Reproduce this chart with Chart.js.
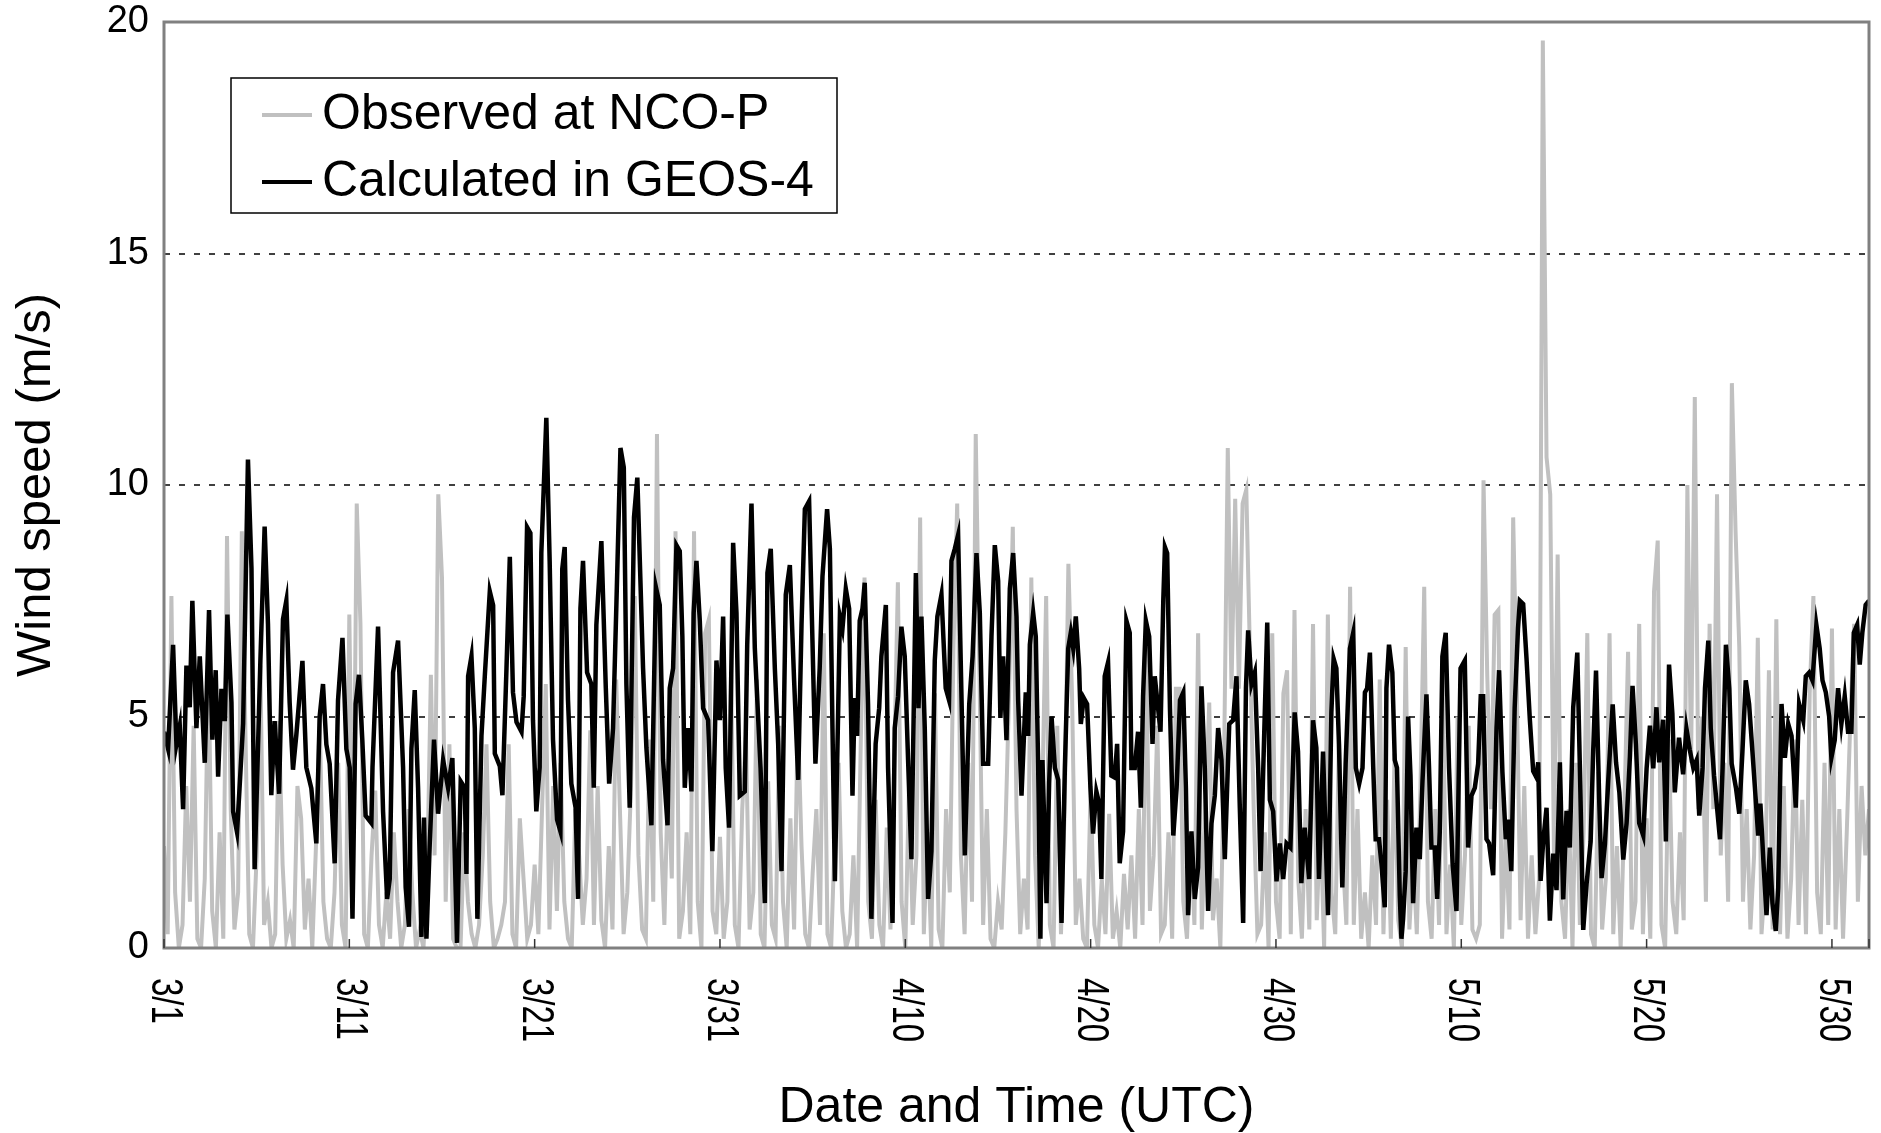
<!DOCTYPE html>
<html>
<head>
<meta charset="utf-8">
<script src="https://cdn.jsdelivr.net/npm/chart.js@4.4.1/dist/chart.umd.min.js"></script>
<style>
  html, body { margin: 0; padding: 0; background: #fff; }
  #wrap { width: 1881px; height: 1133px; }
</style>
</head>
<body>
<div id="wrap"><canvas id="windChart" width="1881" height="1133"></canvas></div>
<script>
// tick labels on the time axis, one every 10 days from 3/1
const dateLabels = ['3/1', '3/11', '3/21', '3/31', '4/10', '4/20', '4/30', '5/10', '5/20', '5/30'];
const seriesNames = ['Observed at NCO-P', 'Calculated in GEOS-4'];

// observed wind speed (m/s), one value every 0.2 day from 3/1 00:00
const obsStep = 0.2;
const obsSpeed = [
  2.2, 0.3, 7.6, 1.2, 0.0, 0.5, 3.5, 1.0, 4.8, 0.2, 0.0, 1.5, 6.2, 0.8, 0.0, 2.5, 0.2, 8.9, 3.0, 0.4, 1.2, 9.0, 4.5, 0.3, 0.0,
  2.0, 6.1, 0.5, 1.0, 0.0, 0.3, 4.9, 1.8, 0.2, 0.6, 0.0, 3.5, 2.8, 0.4, 1.5, 0.0, 2.2, 5.0, 1.0, 0.2, 0.0, 1.2, 4.0, 0.5, 0.0,
  7.2, 1.0, 9.6, 7.0, 0.3, 0.0, 2.0, 3.4, 0.5, 0.0, 1.2, 0.2, 2.5, 1.0, 0.0, 0.5, 3.0, 1.2, 0.0, 0.4, 0.0, 1.5, 5.9, 2.0, 9.8,
  8.0, 1.0, 4.4, 0.2, 0.0, 0.0, 2.5, 1.0, 0.3, 0.0, 0.5, 2.0, 4.4, 1.0, 0.0, 0.2, 0.5, 1.0, 4.4, 0.3, 0.0, 2.8, 1.5, 0.2, 0.5,
  1.8, 0.3, 3.0, 5.7, 0.4, 3.5, 0.8, 4.0, 1.0, 0.2, 0.0, 3.0, 2.0, 0.5, 1.5, 4.7, 0.5, 3.5, 0.6, 0.0, 2.2, 0.4, 5.8, 3.0, 0.3,
  1.2, 3.5, 7.6, 2.0, 0.4, 0.2, 4.5, 1.0, 11.1, 2.5, 0.5, 3.8, 1.5, 9.0, 0.2, 0.8, 2.5, 0.3, 9.0, 1.0, 0.0, 6.8, 7.1, 0.8, 0.3,
  2.4, 0.2, 1.0, 5.9, 0.5, 0.0, 3.0, 4.6, 0.4, 1.2, 5.8, 0.3, 0.0, 3.6, 0.5, 0.2, 4.8, 1.0, 0.0, 2.8, 0.4, 5.0, 2.2, 0.3, 0.0,
  1.6, 3.0, 0.5, 6.8, 0.3, 0.0, 2.5, 4.0, 0.8, 0.0, 0.3, 2.0, 0.0, 4.5, 8.0, 1.0, 0.2, 3.2, 0.5, 0.0, 2.6, 0.4, 4.0, 7.9, 1.0,
  0.0, 3.5, 0.5, 2.0, 9.3, 0.3, 2.5, 0.0, 5.5, 0.4, 0.0, 3.0, 1.2, 6.5, 9.6, 2.0, 0.3, 4.0, 1.0, 11.1, 6.0, 0.5, 3.0, 0.2, 0.0,
  1.0, 0.4, 2.5, 5.5, 9.1, 3.0, 0.3, 1.5, 0.4, 8.0, 2.0, 0.0, 3.5, 7.6, 0.5, 0.0, 4.8, 0.3, 3.0, 8.3, 5.4, 0.5, 1.5, 0.2, 0.0,
  3.5, 0.5, 0.0, 1.5, 0.3, 2.9, 0.2, 0.8, 0.0, 1.6, 0.4, 2.0, 0.2, 3.0, 0.5, 6.5, 0.8, 2.0, 4.8, 0.3, 0.5, 2.5, 0.2, 5.6, 5.6,
  1.0, 0.2, 2.5, 0.5, 6.8, 0.4, 3.0, 5.3, 0.6, 1.5, 0.0, 4.0, 10.8, 5.6, 9.7, 5.6, 9.6, 9.9, 6.3, 3.0, 0.3, 0.5, 2.5, 0.0, 6.8,
  1.0, 0.2, 5.5, 6.0, 0.3, 7.3, 1.5, 0.2, 3.0, 0.4, 7.0, 0.6, 2.8, 0.0, 7.2, 1.2, 0.3, 4.5, 2.0, 0.5, 7.8, 0.5, 3.0, 0.2, 1.2,
  0.0, 2.0, 0.5, 5.8, 0.3, 3.2, 0.2, 4.2, 0.6, 0.0, 6.5, 0.4, 2.0, 0.3, 3.5, 7.8, 1.0, 0.2, 3.0, 0.5, 6.0, 0.3, 1.8, 0.0, 5.0,
  0.5, 2.0, 4.8, 0.4, 0.2, 0.5, 10.1, 5.9, 3.0, 7.2, 7.3, 0.2, 2.5, 0.4, 9.3, 5.5, 0.6, 3.5, 0.2, 2.0, 0.3, 1.5, 19.6, 10.6, 9.8,
  2.0, 8.5, 1.0, 0.2, 3.0, 0.0, 4.0, 0.5, 2.5, 6.8, 0.3, 0.0, 3.8, 0.4, 1.5, 6.8, 0.3, 2.2, 0.0, 3.0, 6.4, 0.4, 1.0, 7.0, 0.3,
  2.8, 0.2, 7.7, 8.8, 0.5, 0.0, 4.5, 1.0, 0.3, 2.5, 0.6, 10.0, 4.0, 11.9, 3.0, 5.0, 1.0, 7.0, 3.0, 9.8, 2.0, 4.0, 1.0, 12.2, 9.0,
  6.5, 1.0, 3.0, 0.4, 2.0, 6.7, 0.3, 1.5, 6.0, 0.4, 7.1, 0.3, 3.5, 0.2, 1.5, 4.5, 0.5, 3.2, 0.3, 5.5, 7.6, 1.2, 0.3, 4.0, 0.5,
  6.9, 0.4, 3.0, 0.2, 2.5, 5.0, 7.0, 1.0, 3.5, 2.0, 3.0
];

// GEOS-4 wind speed: time in days since 3/1 00:00, and speed (m/s)
const calcDay = [
  0.0, 0.22, 0.49, 0.67, 0.85, 1.03, 1.21, 1.39, 1.53, 1.75,
  1.93, 2.2, 2.43, 2.61, 2.79, 2.92, 3.1, 3.28, 3.42, 3.64,
  3.73, 3.94, 4.09, 4.27, 4.53, 4.72, 4.89, 5.07, 5.2, 5.43,
  5.61, 5.79, 5.97, 6.21, 6.42, 6.6, 6.78, 6.96, 7.14, 7.47,
  7.68, 7.95, 8.22, 8.4, 8.58, 8.76, 8.94,
  9.21, 9.39, 9.63, 9.84, 10.02, 10.17, 10.34, 10.52, 10.7, 10.88,
  11.19, 11.25, 11.55, 11.82, 12.04, 12.18, 12.36, 12.63, 12.9, 13.04,
  13.22, 13.35, 13.53, 13.71, 13.89, 14.03, 14.16, 14.34, 14.57, 14.79,
  15.06, 15.33, 15.56, 15.81, 16.01, 16.23, 16.32, 16.41, 16.59, 16.77,
  16.91, 17.13, 17.31, 17.58, 17.76, 17.85, 18.12,
  18.26, 18.48, 18.66, 18.83, 19.02, 19.29, 19.41, 19.59, 19.77, 19.91,
  20.09, 20.27, 20.36, 20.63, 20.81, 20.99, 21.21, 21.39, 21.49, 21.62,
  21.8, 21.98, 22.21, 22.34, 22.47, 22.61, 22.83, 23.06, 23.19, 23.33,
  23.6, 23.84, 24.02, 24.23, 24.41, 24.63, 24.81, 24.95, 25.13, 25.36,
  25.54, 25.85, 26.03, 26.3, 26.54, 26.75, 26.93, 27.17,
  27.29, 27.47, 27.65, 27.83, 27.97, 28.1, 28.28, 28.46, 28.58, 28.73,
  28.91, 29.09, 29.36, 29.59, 29.81, 29.99, 30.17, 30.31, 30.49, 30.71,
  30.89, 31.07, 31.34, 31.47, 31.7, 31.88, 32.19, 32.42, 32.56, 32.74,
  32.96, 33.14, 33.32, 33.55, 33.77, 34.0, 34.22, 34.4, 34.58, 34.81,
  34.99, 35.15, 35.38, 35.53, 35.78, 35.93, 36.07, 36.2, 36.38,
  36.47, 36.61, 36.79, 36.97, 37.15, 37.27, 37.4, 37.54, 37.69, 37.81,
  37.99, 38.17, 38.4, 38.59, 38.71, 38.95, 39.07, 39.31, 39.43, 39.61,
  39.79, 39.97, 40.15, 40.33, 40.57, 40.71, 40.87, 41.05, 41.23, 41.41,
  41.59, 41.73, 41.95, 42.18, 42.36, 42.49, 42.67, 42.85, 42.99, 43.21,
  43.45, 43.63, 43.84, 44.02, 44.2, 44.47, 44.65, 44.83, 45.01, 45.13,
  45.28, 45.46, 45.64,
  45.82, 46.0, 46.09, 46.27, 46.5, 46.63, 46.72, 46.9, 47.04, 47.17,
  47.29, 47.4, 47.62, 47.76, 47.89, 48.07, 48.25, 48.43, 48.61, 48.79,
  48.93, 49.06, 49.2, 49.38, 49.47, 49.63, 49.81, 49.99, 50.13, 50.31,
  50.46, 50.58, 50.76, 50.94, 51.12, 51.3, 51.43, 51.57, 51.75, 51.93,
  52.11, 52.2, 52.38, 52.56, 52.71, 52.83, 52.98, 53.16, 53.34, 53.46,
  53.64, 53.77, 53.92, 54.01, 54.13, 54.28, 54.46, 54.64, 54.82, 55.0,
  55.14, 55.26, 55.44, 55.62, 55.8, 55.98, 56.16, 56.34, 56.52, 56.7,
  56.88, 57.06, 57.24, 57.48, 57.69, 57.87, 58.05, 58.23, 58.38, 58.5,
  58.68, 58.86, 59.04, 59.17, 59.31, 59.53, 59.67, 59.85, 60.03, 60.21,
  60.39, 60.57, 60.78, 61.01, 61.19, 61.37, 61.55, 61.79, 62.0, 62.18,
  62.32, 62.54, 62.81, 62.99, 63.11, 63.26, 63.4, 63.58, 63.76,
  63.99, 64.17, 64.31, 64.49, 64.67, 64.8, 64.92, 65.07, 65.25, 65.38,
  65.56, 65.69, 65.87, 65.96, 66.1, 66.28, 66.41, 66.53, 66.68, 66.77,
  66.86, 67.0, 67.13, 67.26, 67.4, 67.58, 67.76, 67.91, 68.12, 68.26,
  68.39, 68.57, 68.7, 68.84, 68.98, 69.16, 69.34, 69.53, 69.74, 69.96,
  70.19, 70.37, 70.55, 70.73, 70.91, 71.05, 71.18, 71.36, 71.5, 71.72,
  71.9, 72.04, 72.22, 72.4, 72.52, 72.7, 72.88, 73.06,
  73.16, 73.34, 73.52, 73.7, 73.88, 74.06, 74.15, 74.28, 74.42, 74.6,
  74.78, 74.96, 75.14, 75.32, 75.5, 75.68, 75.86, 76.04, 76.26, 76.4,
  76.58, 76.76, 76.98, 77.12, 77.27, 77.45, 77.57, 77.75, 77.93, 78.17,
  78.35, 78.53, 78.74, 78.92, 79.1, 79.24, 79.42, 79.6, 79.82, 80.0,
  80.18, 80.36, 80.53, 80.68, 80.89, 81.04, 81.21, 81.39, 81.52, 81.75,
  81.97, 82.15, 82.33,
  82.52, 82.7, 82.84, 83.02, 83.15, 83.33, 83.46, 83.64, 83.78, 83.96,
  84.1, 84.28, 84.46, 84.59, 84.82, 85.0, 85.17, 85.35, 85.53, 85.71,
  85.89, 86.02, 86.14, 86.32, 86.47, 86.65, 86.79, 86.97, 87.1, 87.28,
  87.46, 87.64, 87.82, 88.05, 88.23, 88.45, 88.59, 88.77, 88.95, 89.16,
  89.34, 89.49, 89.67, 89.85, 89.97, 90.15, 90.33, 90.51, 90.69, 90.87,
  91.05, 91.18, 91.36, 91.5, 91.64, 91.82, 92.0
];
const calcSpeed = [
  4.67, 4.3, 6.55, 4.4, 4.8, 3.0, 6.1, 5.2, 7.5, 4.75,
  6.3, 4.0, 7.3, 4.5, 6.0, 3.7, 5.6, 4.9, 7.2, 5.3,
  2.95, 2.5, 3.55, 4.85, 10.55, 8.2, 1.7, 4.3, 6.2, 9.1,
  7.0, 3.3, 4.9, 3.33, 7.1, 7.5, 5.3, 3.85, 4.6, 6.2,
  3.9, 3.45, 2.26, 5.0, 5.7, 4.4, 3.98,
  1.83, 5.35, 6.7, 4.3, 3.9, 0.63, 5.27, 5.9, 4.5, 2.86,
  2.7, 3.9, 6.94, 2.95, 1.06, 1.49, 5.95, 6.64, 3.9, 1.31,
  0.46, 4.3, 5.57, 3.46, 0.24, 2.82, 0.2, 2.26, 4.5, 2.9,
  4.06, 3.46, 4.1, 0.11, 3.6, 3.46, 1.6, 5.87, 6.3, 4.75,
  0.63, 4.58, 5.87, 7.7, 7.4, 4.2, 3.93,
  3.3, 6.04, 8.45, 5.52, 4.88, 4.67, 5.44, 9.09, 8.96, 4.92,
  2.95, 3.9, 8.53, 11.45, 8.36, 4.5, 2.77, 2.52, 8.19, 8.66,
  5.35, 3.55, 3.03, 1.06, 7.33, 8.36, 5.95, 5.7, 3.46, 6.98,
  8.79, 5.61, 3.55, 4.75, 7.41, 10.8, 10.38, 5.7, 3.03, 9.3,
  10.16, 6.04, 4.32, 2.65, 7.8, 7.41, 4.06, 2.65,
  5.61, 6.04, 8.7, 8.57, 6.73, 3.46, 4.75, 3.38, 7.24, 8.36,
  7.07, 5.18, 4.92, 2.09, 6.21, 4.92, 7.16, 3.89, 2.6, 8.75,
  7.24, 3.29, 3.38, 6.55, 9.6, 6.47, 3.89, 0.97, 8.1, 8.62,
  6.04, 4.41, 1.66, 7.63, 8.27, 5.78, 3.63, 6.98, 9.48, 9.65,
  6.64, 3.98, 6.04, 8.02, 9.48, 8.62, 4.75, 1.44, 5.18,
  7.16, 6.9, 7.76, 7.33, 3.29, 5.4, 4.58, 7.07, 7.33, 7.89,
  5.27, 0.63, 4.41, 5.18, 6.3, 7.41, 3.89, 0.54, 4.75, 5.44,
  6.94, 6.3, 4.06, 1.92, 8.1, 5.18, 7.16, 4.75, 1.06, 2.09,
  6.21, 7.16, 7.63, 5.61, 5.35, 8.36, 8.62, 8.92, 6.21, 2.0,
  5.27, 6.3, 8.53, 7.24, 3.98, 3.98, 6.73, 8.7, 7.93, 4.97,
  6.3, 4.49, 7.76,
  8.53, 7.16, 5.35, 3.29, 5.52, 4.58, 6.55, 7.24, 6.73, 3.89,
  0.2, 4.06, 0.97, 3.55, 5.0, 3.89, 3.63, 0.54, 3.89, 6.47,
  6.81, 6.47, 7.16, 6.04, 4.84, 5.4, 5.27, 3.46, 2.47, 3.38,
  3.12, 1.49, 5.87, 6.17, 3.72, 3.68, 4.41, 1.83, 2.52, 7.07,
  6.81, 3.89, 3.89, 4.67, 3.03, 5.44, 7.07, 6.73, 4.41, 5.87,
  5.18, 4.67, 7.5, 8.66, 8.53, 5.18, 2.43, 3.46, 5.35, 5.52,
  3.46, 0.71, 2.52, 1.06, 1.74, 5.65, 3.89, 0.8, 2.69, 3.29,
  4.75, 4.06, 1.92, 4.84, 4.92, 5.87, 3.03, 0.54, 5.61, 6.86,
  5.7, 5.95, 3.89, 1.66, 3.8, 7.03, 3.2, 2.95, 1.44, 2.26,
  1.49, 2.26, 2.17, 5.09, 4.24, 1.4, 2.6, 1.49, 4.92, 4.32,
  1.49, 4.24, 0.71, 5.09, 6.25, 6.04, 4.41, 1.31, 3.98,
  6.47, 6.81, 3.89, 3.55, 3.89, 5.52, 5.61, 6.38, 3.89, 2.35,
  2.35, 1.83, 0.88, 5.61, 6.55, 5.95, 4.06, 3.89, 1.14, 0.2,
  0.63, 1.66, 5.0, 3.72, 0.97, 2.6, 1.92, 3.63, 5.48, 3.89,
  2.17, 2.17, 1.06, 2.52, 6.3, 6.81, 3.89, 1.83, 0.8, 6.04,
  6.21, 2.17, 3.29, 3.46, 3.98, 5.44, 5.44, 2.35, 2.26, 1.57,
  4.75, 6.0, 3.8, 2.35, 2.77, 1.66, 5.18, 6.9,
  7.5, 7.43, 6.25, 4.93, 3.82, 3.68, 4.01, 1.45, 2.3, 3.03,
  0.59, 2.04, 1.25, 4.01, 1.05, 2.96, 2.17, 5.2, 6.38, 3.88,
  0.39, 1.38, 2.3, 4.28, 5.99, 3.09, 1.51, 2.24, 3.62, 5.26,
  4.01, 3.36, 1.91, 2.7, 4.14, 5.66, 4.41, 2.7, 2.43, 3.88,
  4.8, 3.88, 5.2, 4.01, 4.93, 2.3, 6.12, 5.07, 3.36, 4.54,
  3.75, 4.74, 4.28,
  3.89, 4.06, 2.86, 3.89, 5.61, 6.64, 4.75, 3.72, 3.12, 2.35,
  3.89, 6.55, 5.61, 3.98, 3.46, 2.9, 4.24, 5.78, 5.27, 4.24,
  3.2, 2.43, 3.12, 1.74, 0.71, 2.17, 0.97, 0.37, 1.31, 5.27,
  4.11, 4.84, 4.58, 3.03, 5.27, 4.92, 5.87, 5.95, 5.78, 6.98,
  6.47, 5.78, 5.52, 5.0, 4.11, 4.49, 5.61, 4.84, 5.44, 4.67,
  4.67, 6.81, 6.98, 6.12, 6.81, 7.41, 7.5
];

const FONT = '"Liberation Sans", Arial, sans-serif';
const OBS_COLOR = '#c0c0c0';
const CALC_COLOR = '#000000';

// frame, rotated date labels and the boxed legend
const extrasPlugin = {
  id: 'extras',
  afterDatasetsDraw(chart) {
    const {ctx, chartArea: a, scales: {x}} = chart;
    ctx.save();

    ctx.strokeStyle = '#808080';
    ctx.lineWidth = 3;
    ctx.strokeRect(a.left, a.top, a.right - a.left, a.bottom - a.top);

    ctx.fillStyle = '#000';
    ctx.font = '44px ' + FONT;
    x.ticks.forEach((t, i) => {
      const px = x.getPixelForValue(t.value);
      ctx.strokeStyle = '#333';
      ctx.lineWidth = 1.5;
      ctx.beginPath();
      ctx.moveTo(px, a.bottom);
      ctx.lineTo(px, a.bottom - 9);
      ctx.stroke();
      if (dateLabels[i] === undefined) return;
      // labels read top to bottom, glyphs a bit condensed like the original
      ctx.save();
      ctx.translate(px, a.bottom + 30);
      ctx.rotate(Math.PI / 2);
      ctx.scale(0.75, 1);
      ctx.textAlign = 'left';
      ctx.textBaseline = 'middle';
      ctx.fillText(dateLabels[i], 0, 0);
      ctx.restore();
    });

    // legend box
    const lx = a.left + 67, ly = a.top + 56, lw = 606, lh = 135;
    ctx.fillStyle = '#fff';
    ctx.fillRect(lx, ly, lw, lh);
    ctx.strokeStyle = '#000';
    ctx.lineWidth = 1.5;
    ctx.strokeRect(lx, ly, lw, lh);
    const colors = [OBS_COLOR, CALC_COLOR];
    ctx.font = '50px ' + FONT;
    ctx.textAlign = 'left';
    ctx.textBaseline = 'middle';
    seriesNames.forEach((name, i) => {
      const rowY = ly + 37 + i * 67;
      ctx.strokeStyle = colors[i];
      ctx.lineWidth = 4;
      ctx.beginPath();
      ctx.moveTo(lx + 31, rowY);
      ctx.lineTo(lx + 81, rowY);
      ctx.stroke();
      ctx.fillStyle = '#000';
      ctx.fillText(name, lx + 91, rowY);
    });
    ctx.restore();
  }
};

new Chart(document.getElementById('windChart'), {
  type: 'line',
  data: {
    datasets: [
      {
        label: seriesNames[0],
        data: obsSpeed.map((v, i) => ({x: i * obsStep, y: v})),
        borderColor: OBS_COLOR,
        borderWidth: 4,
        pointRadius: 0,
        tension: 0,
        order: 2
      },
      {
        label: seriesNames[1],
        data: calcDay.map((d, i) => ({x: d, y: calcSpeed[i]})),
        borderColor: CALC_COLOR,
        borderWidth: 4.5,
        pointRadius: 0,
        tension: 0,
        order: 1
      }
    ]
  },
  options: {
    responsive: false,
    animation: false,
    events: [],
    layout: { padding: {top: 22, right: 12, bottom: 0, left: 0} },
    plugins: { legend: {display: false}, tooltip: {enabled: false} },
    scales: {
      x: {
        type: 'linear',
        min: 0,
        max: 92,
        ticks: { stepSize: 10, display: false },
        grid: { display: false },
        border: { display: false },
        title: {
          display: true,
          text: 'Date and Time (UTC)',
          color: '#000',
          font: {family: FONT, size: 50, lineHeight: 1},
          padding: {top: 0, bottom: 0}
        },
        afterFit: s => { s.height = 185; }
      },
      y: {
        min: 0,
        max: 20,
        ticks: {
          stepSize: 5,
          padding: 15,
          color: '#000',
          font: {family: FONT, size: 38, lineHeight: 1}
        },
        grid: {
          drawTicks: false,
          color: '#404040',
          lineWidth: c => (c.tick && c.tick.value === 0 ? 0 : 2)
        },
        border: { display: false, dash: [6, 9] },
        title: {
          display: true,
          text: 'Wind speed (m/s)',
          color: '#000',
          font: {family: FONT, size: 49, lineHeight: 1},
          padding: {top: 12, bottom: 0}
        },
        afterFit: s => {
          s.width = 164;
          s.paddingTop = 0;
          s.paddingBottom = 0;
        }
      }
    }
  },
  plugins: [extrasPlugin]
});
</script>
</body>
</html>
